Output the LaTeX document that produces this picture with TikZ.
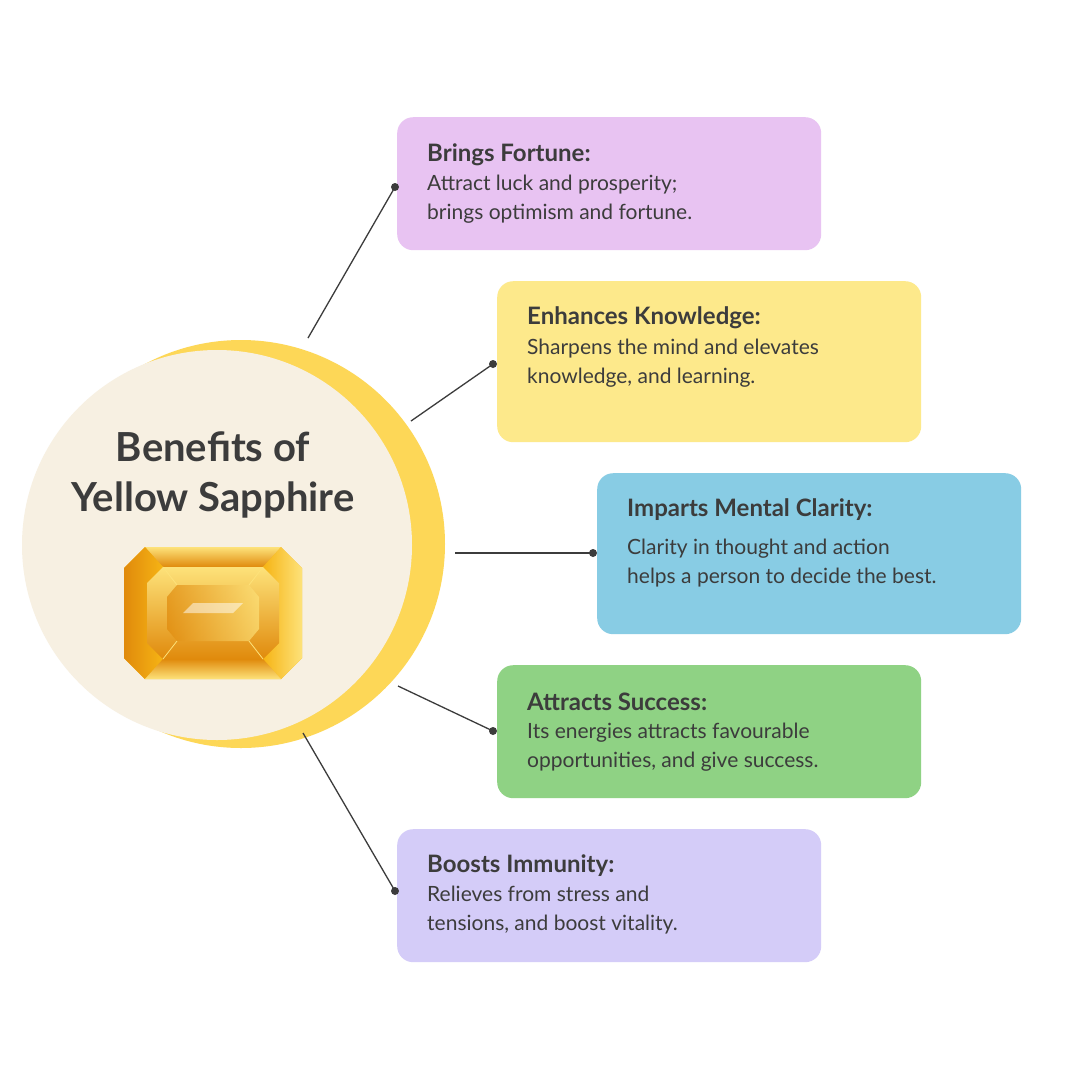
\documentclass[tikz,border=0pt]{standalone}
\usepackage{fontspec}
\setmainfont{Lato}
\usetikzlibrary{positioning,shapes.geometric}
\definecolor{txtgray}{HTML}{3C3C3C}
\definecolor{ringyellow}{HTML}{FDD757}
\definecolor{cream}{HTML}{F7F0E2}
\definecolor{boxpurple}{HTML}{E8C3F2}
\definecolor{boxyellow}{HTML}{FDE98B}
\definecolor{boxblue}{HTML}{88CCE4}
\definecolor{boxgreen}{HTML}{8FD284}
\definecolor{boxlav}{HTML}{D4CCF8}
\definecolor{gemdark}{HTML}{E08A0C}
\definecolor{gemmid}{HTML}{F6B414}
\definecolor{gemlight}{HTML}{FDE27A}
\tikzset{
  benefit/.style={rounded corners=16pt, minimum width=424pt, inner sep=0pt, anchor=north west},
  btitle/.style={anchor=west, font=\bfseries\fontsize{24}{28}\selectfont, text=txtgray, inner sep=0pt},
  btext/.style={anchor=north west, align=left, font=\fontsize{21}{28.5}\selectfont, text=txtgray, inner sep=0pt},
  dot/.style={circle, fill=txtgray, inner sep=0pt, minimum size=8pt},
  link/.style={draw=txtgray, line width=1.3pt}
}
\begin{document}
\begin{tikzpicture}[x=1pt,y=-1pt]
  \useasboundingbox[fill=white] (0,0) rectangle (1080,1080);

  % centre disc
  \fill[ringyellow] (241,544) circle (204);
  \fill[cream] (217,545) circle (195);
  \node[font=\bfseries\fontsize{40}{50}\selectfont, text=txtgray, align=center] (title) at (213,475) {Benefits of\\Yellow Sapphire};

  % gem
  \begin{scope}[shift={(213,613)}]
    \fill[gemmid] (-68,-66) -- (68,-66) -- (89,-45) -- (89,45) -- (68,66) -- (-68,66) -- (-89,45) -- (-89,-45) -- cycle;
    \shade[top color=gemlight, bottom color=gemdark] (-68,-66) -- (68,-66) -- (50,-46) -- (-50,-46) -- cycle;
    \shade[left color=gemdark, right color=gemmid] (-89,-45) -- (-68,-66) -- (-50,-46) -- (-66,-30) -- (-66,30) -- (-50,46) -- (-68,66) -- (-89,45) -- cycle;
    \shade[left color=gemmid, right color=gemlight] (89,-45) -- (68,-66) -- (50,-46) -- (66,-30) -- (66,30) -- (50,46) -- (68,66) -- (89,45) -- cycle;
    \shade[top color=gemdark, bottom color=gemlight] (-68,66) -- (68,66) -- (50,46) -- (-50,46) -- cycle;
    \shade[top color=gemlight, bottom color=gemdark] (-50,-46) -- (50,-46) -- (66,-30) -- (66,30) -- (50,46) -- (-50,46) -- (-66,30) -- (-66,-30) -- cycle;
    \shade[left color=gemdark, right color=gemlight, opacity=0.7] (-36,-28) -- (36,-28) -- (46,-16) -- (46,16) -- (36,28) -- (-36,28) -- (-46,16) -- (-46,-16) -- cycle;
    \draw[gemlight, line width=0.8pt] (-50,-46) -- (-36,-28) (50,-46) -- (36,-28) (50,46) -- (36,28) (-50,46) -- (-36,28);
    \fill[white, opacity=0.5] (-20,-10) -- (30,-10) -- (20,0) -- (-30,0) -- cycle;
  \end{scope}

  % benefit boxes
  \node[benefit, fill=boxpurple, minimum height=133pt] (fortune) at (397,117) {};
  \node[btitle] (fortuneT) at (427,155) {Brings Fortune:};
  \node[btext] (fortuneB) at (427,175) {Attract luck and prosperity;\\brings optimism and fortune.};

  \node[benefit, fill=boxyellow, minimum height=161pt] (knowledge) at (497,281) {};
  \node[btitle] (knowledgeT) at (527,318) {Enhances Knowledge:};
  \node[btext] (knowledgeB) at (527,339) {Sharpens the mind and elevates\\knowledge, and learning.};

  \node[benefit, fill=boxblue, minimum height=161pt] (clarity) at (597,473) {};
  \node[btitle] (clarityT) at (627,510) {Imparts Mental Clarity:};
  \node[btext] (clarityB) at (627,539) {Clarity in thought and action\\helps a person to decide the best.};

  \node[benefit, fill=boxgreen, minimum height=133pt] (success) at (497,665) {};
  \node[btitle] (successT) at (527,702) {Attracts Success:};
  \node[btext] (successB) at (527,723) {Its energies attracts favourable\\opportunities, and give success.};

  \node[benefit, fill=boxlav, minimum height=133pt] (immunity) at (397,829) {};
  \node[btitle] (immunityT) at (427,866) {Boosts Immunity:};
  \node[btext] (immunityB) at (427,886) {Relieves from stress and\\tensions, and boost vitality.};

  % connectors
  \node[dot] (d1) at (395,187) {};
  \node[dot] (d2) at (493,364) {};
  \node[dot] (d3) at (593,553) {};
  \node[dot] (d4) at (493,731) {};
  \node[dot] (d5) at (395,891) {};
  \coordinate (c1) at (308,338);
  \coordinate (c2) at (411,421);
  \coordinate (c3) at (455,553);
  \coordinate (c4) at (398,686);
  \coordinate (c5) at (303,733);
  \foreach \i in {1,...,5} {
    \draw[link] (c\i) -- (d\i.center);
  }
\end{tikzpicture}
\end{document}
